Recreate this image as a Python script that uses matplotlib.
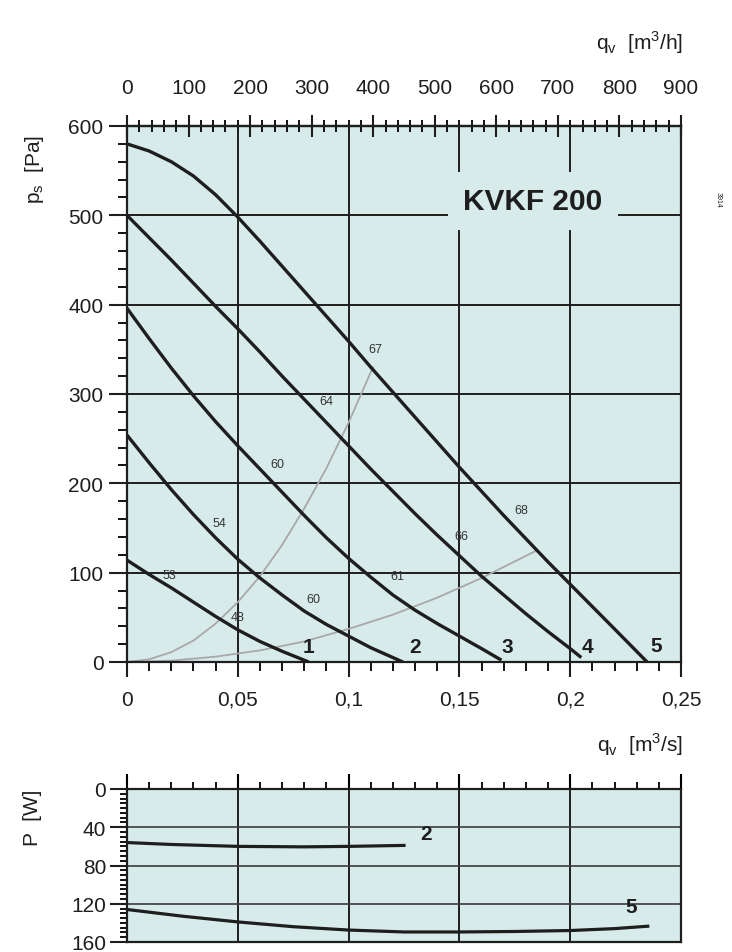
import matplotlib
matplotlib.use("Agg")
import matplotlib.pyplot as plt
from matplotlib.ticker import MultipleLocator, FixedLocator, FuncFormatter

plt.rcParams['font.family'] = ['Liberation Sans', 'DejaVu Sans']

BG = '#d7ecea'
INK = '#1e1e1e'

# fan curves 1..5, q in m3/s, ps in Pa
q1 = [0, 0.01, 0.02, 0.03, 0.04, 0.05, 0.06, 0.07, 0.082]
p1 = [114, 98, 83, 67, 51, 36, 23, 12, 0]

q2 = [0, 0.01, 0.02, 0.03, 0.04, 0.05, 0.06, 0.07, 0.08, 0.09, 0.1, 0.11, 0.1245]
p2 = [254, 223, 193, 165, 139, 115, 94, 75, 57, 42, 29, 16, 0]

q3 = [0, 0.01, 0.02, 0.03, 0.04, 0.05, 0.06, 0.07, 0.08, 0.09, 0.1, 0.11, 0.12,
      0.13, 0.14, 0.15, 0.16, 0.169]
p3 = [396, 362, 329, 298, 269, 242, 216, 190, 164, 139, 116, 95, 75, 58, 43, 29, 15, 2]

q4 = [0, 0.01, 0.02, 0.03, 0.04, 0.05, 0.06, 0.07, 0.08, 0.09, 0.1, 0.11, 0.12,
      0.13, 0.14, 0.15, 0.16, 0.17, 0.18, 0.19, 0.2, 0.205]
p4 = [500, 475, 450, 424, 398, 373, 347, 320, 294, 268, 242, 216, 191, 166, 142,
      119, 96, 75, 54, 34, 15, 5]

q5 = [0, 0.01, 0.02, 0.03, 0.04, 0.05, 0.06, 0.07, 0.08, 0.09, 0.1, 0.11, 0.12,
      0.13, 0.14, 0.15, 0.16, 0.17, 0.18, 0.19, 0.2, 0.21, 0.22, 0.2347]
p5 = [580, 572, 560, 544, 523, 498, 471, 443, 415, 387, 359, 330, 302, 274, 246,
      218, 191, 164, 138, 112, 87, 62, 37, 0]

# system curves (grey)
qa = [0, 0.01, 0.02, 0.03, 0.04, 0.05, 0.06, 0.07, 0.08, 0.09, 0.1, 0.111]
pa = [0, 3, 11, 24, 43, 67, 96, 131, 172, 217, 268, 330]
qb = [0, 0.02, 0.04, 0.06, 0.08, 0.1, 0.12, 0.14, 0.16, 0.185]
pb = [0, 1.5, 6, 13, 23, 37, 53, 72, 94, 125]

# sound labels
snd_q = [0.112, 0.090, 0.068, 0.0415, 0.019, 0.05, 0.084, 0.122, 0.151, 0.178]
snd_p = [350, 292, 222, 156, 97, 50, 71, 96, 141, 170]
snd_txt = ['67', '64', '60', '54', '53', '48', '60', '61', '66', '68']

curve_names = ['1', '2', '3', '4', '5']
name_q = [0.0817, 0.130, 0.1715, 0.208, 0.239]
name_p = [17, 17, 17, 17, 19]

# power curves
pw_q2 = [0, 0.02, 0.05, 0.08, 0.1, 0.125]
pw_2 = [56, 58, 60, 60.5, 60, 59]
pw_q5 = [0, 0.025, 0.05, 0.075, 0.1, 0.125, 0.15, 0.175, 0.2, 0.22, 0.235]
pw_5 = [126, 133, 139, 144, 147.5, 149.5, 149.5, 149, 148, 146, 143.5]

top_ticks = [0, 100, 200, 300, 400, 500, 600, 700, 800, 900]

W, H = 732, 953
fig = plt.figure(figsize=(W / 100, H / 100), dpi=100)

comma = FuncFormatter(lambda v, pos: ('%g' % round(v, 3)).replace('.', ','))

# main pressure chart
ax = fig.add_axes([127 / W, 1 - 663 / H, 554 / W, 536 / H])
ax.set_facecolor(BG)
ax.set_xlim(0, 0.25)
ax.set_ylim(0, 600)
ax.set_axisbelow(True)
ax.grid(which='major', color=INK, lw=1.4)
for s in ax.spines.values():
    s.set_linewidth(1.6)
    s.set_color(INK)

ax.xaxis.set_major_locator(MultipleLocator(0.05))
ax.xaxis.set_minor_locator(MultipleLocator(0.01))
ax.xaxis.set_major_formatter(comma)
ax.yaxis.set_major_locator(MultipleLocator(100))
ax.yaxis.set_minor_locator(MultipleLocator(20))
ax.tick_params(axis='x', which='major', length=11, width=1.5, pad=9, labelsize=15, colors=INK)
ax.tick_params(axis='x', which='minor', length=6.5, width=1.3)
ax.tick_params(axis='y', which='major', length=13, width=1.5, pad=4, labelsize=15, colors=INK)
ax.tick_params(axis='y', which='minor', length=6.5, width=1.3)

top = ax.secondary_xaxis('top', functions=(lambda q: q * 3600, lambda h: h / 3600))
top.xaxis.set_major_locator(FixedLocator(top_ticks))
top.xaxis.set_minor_locator(MultipleLocator(20))
top.tick_params(which='major', direction='inout', length=16, width=1.5, pad=13, labelsize=15, colors=INK)
top.tick_params(which='minor', direction='inout', length=9, width=1.3)
top.spines['top'].set_linewidth(1.6)

ax.plot(qa, pa, color='#a8a8a8', lw=1.3, zorder=2)
ax.plot(qb, pb, color='#a8a8a8', lw=1.3, zorder=2)
for q, p in zip([q1, q2, q3, q4, q5], [p1, p2, p3, p4, p5]):
    ax.plot(q, p, color=INK, lw=2.4, zorder=3, solid_capstyle='butt', solid_joinstyle='round')

for q, p, t in zip(snd_q, snd_p, snd_txt):
    ax.text(q, p, t, fontsize=9, color='#333333', ha='center', va='center', zorder=4)
for q, p, t in zip(name_q, name_p, curve_names):
    ax.text(q, p, t, fontsize=15, fontweight='bold', color=INK, ha='center', va='center', zorder=4)

ax.text(0.1832, 516, 'KVKF 200', fontsize=21.5, fontweight='bold', color=INK,
        ha='center', va='center', zorder=3,
        bbox=dict(boxstyle='square,pad=0.5', facecolor=BG, edgecolor='none'))

# power chart
ax2 = fig.add_axes([127 / W, 1 - 943 / H, 554 / W, 153 / H])
ax2.set_facecolor(BG)
ax2.set_xlim(0, 0.25)
ax2.set_ylim(160, 0)
ax2.set_axisbelow(True)
ax2.xaxis.tick_top()
ax2.xaxis.set_major_locator(MultipleLocator(0.05))
ax2.xaxis.set_minor_locator(MultipleLocator(0.01))
ax2.yaxis.set_major_locator(MultipleLocator(40))
ax2.yaxis.set_minor_locator(MultipleLocator(5))
ax2.tick_params(axis='x', which='major', length=11, width=1.5, labeltop=False, labelbottom=False)
ax2.tick_params(axis='x', which='minor', length=5, width=1.3)
ax2.tick_params(axis='y', which='major', length=12, width=1.5, pad=3, labelsize=15, colors=INK)
ax2.tick_params(axis='y', which='minor', length=5, width=1.3)
ax2.grid(axis='x', which='major', color=INK, lw=1.4)
ax2.grid(axis='y', which='major', color='#3a3a3a', lw=1.2)
for s in ax2.spines.values():
    s.set_linewidth(1.6)
    s.set_color(INK)

ax2.plot(pw_q2, pw_2, color=INK, lw=2.3, zorder=3)
ax2.plot(pw_q5, pw_5, color=INK, lw=2.3, zorder=3)
ax2.text(0.1348, 47, '2', fontsize=15, fontweight='bold', color=INK, ha='center', va='center')
ax2.text(0.2274, 123, '5', fontsize=15, fontweight='bold', color=INK, ha='center', va='center')

# axis titles
fig.text(683 / W, 1 - 43 / H, r'q$_\mathregular{v}$  [m$^\mathregular{3}$/h]',
         ha='right', va='center', fontsize=15, color=INK)
fig.text(683 / W, 1 - 745 / H, r'q$_\mathregular{v}$  [m$^\mathregular{3}$/s]',
         ha='right', va='center', fontsize=15, color=INK)
fig.text(35 / W, 1 - 170 / H, r'p$_\mathregular{s}$  [Pa]', rotation=90,
         ha='center', va='center', fontsize=15, color=INK)
fig.text(33 / W, 1 - 818 / H, 'P  [W]', rotation=90,
         ha='center', va='center', fontsize=15, color=INK)
fig.text(718 / W, 1 - 200 / H, '3914', rotation=-90,
         ha='center', va='center', fontsize=5, color=INK)

fig.savefig('out.png', dpi=100)
